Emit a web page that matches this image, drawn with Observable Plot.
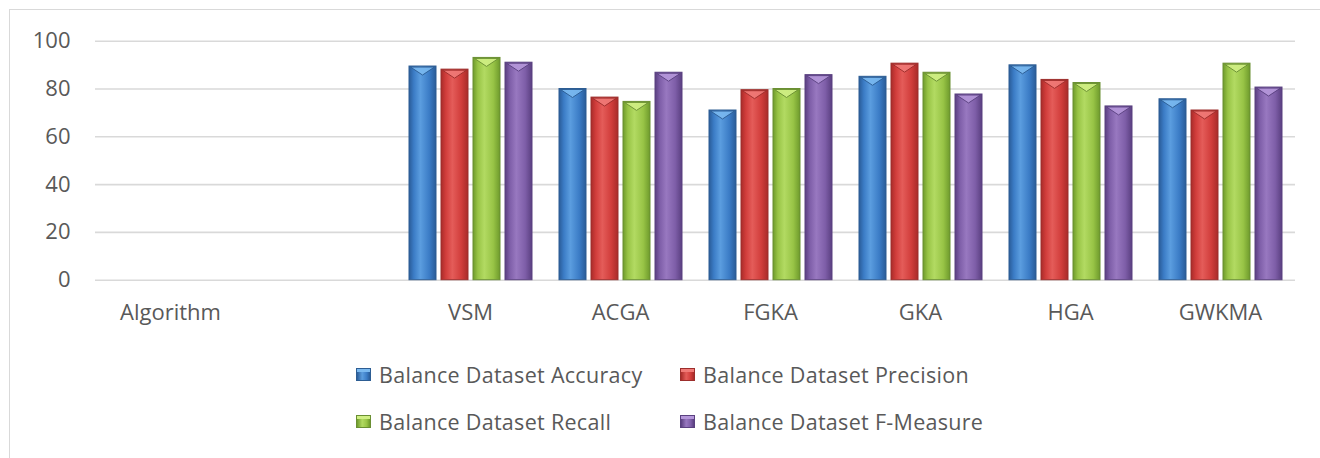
<!DOCTYPE html>
<html>
<head>
<meta charset="utf-8">
<script src="https://cdn.jsdelivr.net/npm/d3@7"></script>
<script src="https://cdn.jsdelivr.net/npm/@observablehq/plot@0.6"></script>
<style>
  html, body { margin: 0; padding: 0; background: #fff; width: 1320px; height: 458px; overflow: hidden; }
  #frame { position: absolute; left: 9px; top: 9px; width: 1400px; height: 600px;
           border-left: 1.5px solid #d9d9d9; border-top: 1.5px solid #d9d9d9; box-sizing: border-box; }
  #chart { position: absolute; left: 0; top: 0; }
  #legend { position: absolute; left: 356px; top: 360px; display: grid;
            grid-template-columns: 324px auto; grid-auto-rows: 28px; row-gap: 19px;
            font-family: "Open Sans", sans-serif; font-size: 21.5px; letter-spacing: 0.3px; color: #595959; }
  .item { display: flex; align-items: center; gap: 8px; white-space: nowrap; }
  .sw { width: 15px; height: 13px; box-sizing: border-box; flex: none; }
</style>
</head>
<body>
<div id="frame"></div>
<div id="chart"></div>
<div id="legend"></div>
<script>
// ---- data ----
const categories = ["Algorithm", " ", "VSM", "ACGA", "FGKA", "GKA", "HGA", "GWKMA"];
const algorithms = ["VSM", "ACGA", "FGKA", "GKA", "HGA", "GWKMA"];
const seriesNames = ["Balance Dataset Accuracy", "Balance Dataset Precision", "Balance Dataset Recall", "Balance Dataset F-Measure"];
const accuracy  = [89.4, 80.0, 71.0, 85.1, 89.9, 75.7];
const precision = [88.1, 76.4, 79.5, 90.6, 83.8, 71.0];
const recall    = [93.0, 74.6, 80.0, 86.8, 82.5, 90.6];
const fMeasure  = [91.0, 86.8, 85.8, 77.7, 72.7, 80.6];
const yTicks = [0, 20, 40, 60, 80, 100];

// ---- styles ----
const palette = [
  {dark: "#2a5c98", mid: "#3b7cc6", light: "#5b9ddf", stroke: "#2d5d93", cap: "#7ab9f0"},
  {dark: "#a82b29", mid: "#d13d3b", light: "#e45c59", stroke: "#9c2e2c", cap: "#f07a77"},
  {dark: "#6e9a2c", mid: "#98c446", light: "#b2da62", stroke: "#6a8f33", cap: "#d0ef84"},
  {dark: "#5a3f80", mid: "#7e5ea8", light: "#9878c0", stroke: "#5a4180", cap: "#b597da"}
];

const valuesBySeries = [accuracy, precision, recall, fMeasure];
const data = [];
seriesNames.forEach((s, si) => algorithms.forEach((a, ai) => data.push({algorithm: a, series: s, value: valuesBySeries[si][ai]})));
const gridData = categories.flatMap(c => yTicks.map(v => ({category: c, v})));

const font = "Open Sans, sans-serif";

function capRender(si) {
  return function(index, scales, values, dimensions, context, next) {
    const g = next(index, scales, values, dimensions, context);
    g.querySelectorAll("rect").forEach(r => {
      const x = +r.getAttribute("x"), y = +r.getAttribute("y"), w = +r.getAttribute("width");
      const p = document.createElementNS("http://www.w3.org/2000/svg", "polygon");
      p.setAttribute("points", `${x + 1.5},${y + 1} ${x + w - 1.5},${y + 1} ${x + w / 2},${y + 9}`);
      p.setAttribute("fill", palette[si].cap);
      p.setAttribute("opacity", "0.9");
      r.parentNode.appendChild(p);
    });
    return g;
  };
}

const svg = Plot.plot({
  width: 1320,
  height: 340,
  marginLeft: 92,
  marginRight: 22,
  marginTop: 40.7,
  marginBottom: 60.3,
  style: {fontFamily: font, fontSize: "22px", background: "transparent"},
  fx: {domain: categories, padding: 0, label: null},
  x: {domain: seriesNames, axis: null, paddingInner: 0.17, paddingOuter: 0.4},
  y: {domain: [0, 100], label: null},
  marks: [
    Plot.ruleY(gridData, {fx: "category", y: "v", stroke: "#d9d9d9", strokeWidth: 1.6}),
    Plot.axisY({ticks: yTicks, tickSize: 0, tickPadding: 25, color: "#595959", fontSize: 22, label: null}),
    Plot.axisFx({anchor: "bottom", tickSize: 0, tickPadding: 24.5, color: "#595959", fontSize: 22, label: null, tickFormat: d => d.trim()}),
    ...seriesNames.map((s, si) => Plot.barY(data.filter(d => d.series === s), {
      fx: "algorithm", x: "series", y: "value",
      fill: `url(#grad${si})`, stroke: palette[si].stroke, strokeWidth: 1,
      render: capRender(si)
    }))
  ]
});

const defs = d3.select(svg).insert("defs", ":first-child");
palette.forEach((c, i) => {
  const lg = defs.append("linearGradient").attr("id", `grad${i}`).attr("x1", 0).attr("x2", 1).attr("y1", 0).attr("y2", 0);
  [[0, c.dark], [0.18, c.mid], [0.42, c.light], [0.75, c.mid], [1, c.dark]].forEach(([o, col]) =>
    lg.append("stop").attr("offset", o).attr("stop-color", col));
});

document.getElementById("chart").appendChild(svg);

const legend = d3.select("#legend");
seriesNames.forEach((s, i) => {
  const c = palette[i];
  const item = legend.append("div").attr("class", "item");
  item.append("div").attr("class", "sw")
    .style("background", `linear-gradient(to bottom, ${c.cap} 0, ${c.cap} 25%, transparent 25%), linear-gradient(to right, ${c.dark}, ${c.light} 40%, ${c.mid} 75%, ${c.dark})`)
    .style("border", `1px solid ${c.stroke}`);
  item.append("span").text(s);
});
</script>
</body>
</html>
